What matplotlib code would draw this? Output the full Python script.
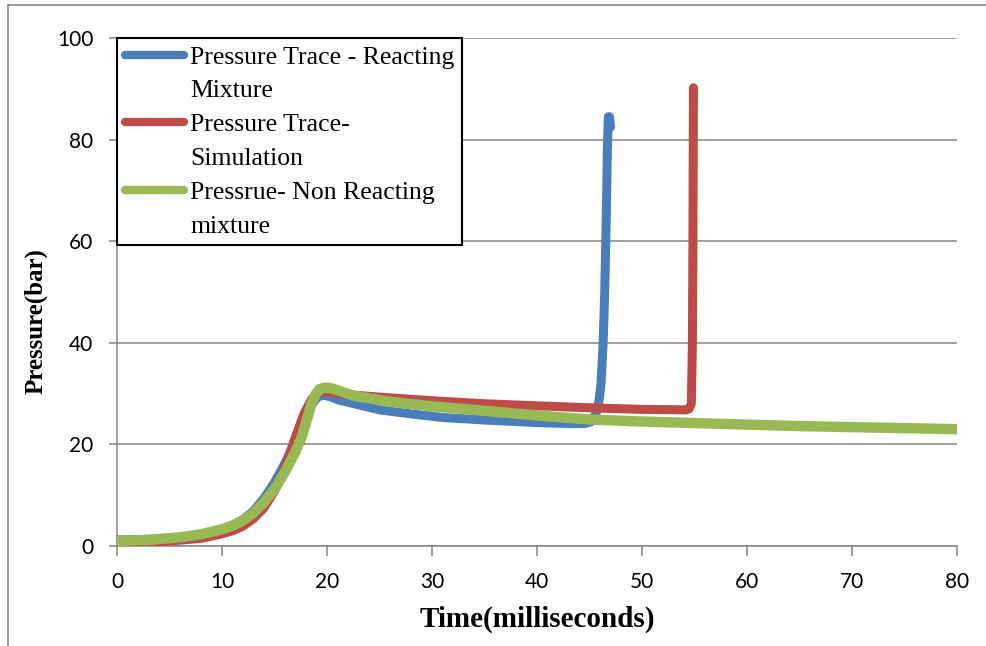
import matplotlib
matplotlib.use("Agg")
import matplotlib.pyplot as plt
from matplotlib.lines import Line2D

# pressure traces, time in ms, pressure in bar
t_react = [0, 3, 6, 8, 10, 11, 12, 13, 14, 15, 16, 17, 18, 18.6, 19.1, 19.6, 20.3, 21, 23, 25, 28, 31, 35, 40, 43,
           44.5, 45.2, 45.6, 45.9, 46.1, 46.3, 46.45, 46.6, 46.7, 46.8, 46.9, 47.0]
p_react = [1.2, 1.3, 1.7, 2.3, 3.3, 4.1, 5.2, 6.9, 9.4, 12.5, 16.3, 20.8, 25.5, 28.0, 29.3, 29.7, 29.4, 28.8, 27.8, 26.8, 26.0, 25.3, 24.8, 24.3, 24.1,
           24.1, 24.5, 26.0, 28.5, 32, 40, 50, 65, 78, 84.5, 84.5, 82.5]

t_sim = [0, 4, 8, 10, 11, 12, 13, 14, 15, 16, 17, 17.8, 18.5, 19.1, 19.7, 20.5, 22, 25, 30, 35, 40, 45, 50,
         54.2, 54.5, 54.7, 54.8, 54.85, 54.9]
p_sim = [0.6, 0.8, 1.5, 2.4, 3.0, 3.9, 5.4, 7.5, 10.8, 15.5, 21.5, 26.0, 28.8, 30.1, 30.4, 30.2, 29.8, 29.3, 28.6, 28.0, 27.6, 27.2, 26.9,
         26.8, 27.0, 28.0, 40, 60, 90.2]

t_nonreact = [0, 3, 6, 8, 10, 11, 12, 13, 14, 15, 16, 17, 17.6, 18.1, 18.5, 18.9, 19.3, 19.8, 20.5, 21.5, 22.5, 26, 30, 34.6,
              40, 45, 50, 55, 60, 65, 70, 75, 80]
p_nonreact = [1.0, 1.2, 1.7, 2.3, 3.3, 4.0, 5.0, 6.5, 8.6, 11.2, 14.6, 18.6, 21.5, 25.0, 27.8, 29.8, 30.9, 31.2, 31.0, 30.3, 29.6, 28.4, 27.5, 26.7,
              25.7, 24.9, 24.5, 24.2, 23.9, 23.6, 23.4, 23.2, 23.0]

lab_react = ["Pressure Trace - Reacting", "Mixture"]
lab_sim = ["Pressure Trace-", "Simulation"]
lab_nonreact = ["Pressrue- Non Reacting", "mixture"]

blue = "#4A7EBB"
red = "#BE4B48"
green = "#98B954"
gray = "#868686"

fig = plt.figure(figsize=(9.87, 6.46), dpi=100)
ax = fig.add_axes([117 / 987, 100 / 646, 840 / 987, 508 / 646])

ax.plot(t_react, p_react, color=blue, lw=6.5, solid_capstyle="round", solid_joinstyle="round", zorder=3)
ax.plot(t_sim, p_sim, color=red, lw=6.5, solid_capstyle="round", solid_joinstyle="round", zorder=4)
ax.plot(t_nonreact, p_nonreact, color=green, lw=7.5, solid_capstyle="round", solid_joinstyle="round", zorder=5)

ax.set_xlim(0, 80)
ax.set_ylim(0, 100)
ax.set_xticks(range(0, 81, 10))
ax.set_yticks(range(0, 101, 20))
ax.yaxis.grid(True, color=gray, lw=1.1)
ax.set_axisbelow(True)
for s in ["top", "right"]:
    ax.spines[s].set_visible(False)
for s in ["left", "bottom"]:
    ax.spines[s].set_color(gray)
    ax.spines[s].set_linewidth(1.1)
    ax.spines[s].set_zorder(2)
ax.tick_params(axis="both", direction="out", color=gray, width=1.1, labelsize=15)
ax.tick_params(axis="x", length=7, pad=12)
ax.tick_params(axis="y", length=6, pad=11)
for lbl in ax.get_xticklabels() + ax.get_yticklabels():
    lbl.set_family("Lato")

ax.set_xlabel("Time(milliseconds)", family="Liberation Serif", fontweight="bold", fontsize=21)
ax.set_ylabel("Pressure(bar)", family="Liberation Serif", fontweight="bold", fontsize=18)
ax.xaxis.set_label_coords(0.5, -0.118)
ax.xaxis.label.set_va("top")
ax.yaxis.set_label_coords(-0.083, 0.443)

# two-line legend labels: the second line gets an empty handle
blank = Line2D([], [], color="none")
handles = [Line2D([], [], color=blue, lw=6, solid_capstyle="round"), blank,
           Line2D([], [], color=red, lw=6, solid_capstyle="round"), blank,
           Line2D([], [], color=green, lw=6, solid_capstyle="round"), blank]
labels = lab_react + lab_sim + lab_nonreact
leg = ax.legend(handles, labels, loc="upper left", bbox_to_anchor=(0, 1), borderaxespad=0,
                prop={"family": "Liberation Serif", "size": 18.5}, handlelength=2.3,
                handletextpad=0.25, labelspacing=0.42, borderpad=0.3, fancybox=False,
                framealpha=1, edgecolor="black")
leg.get_frame().set_linewidth(1.5)
leg.set_zorder(10)

# outer chart border
fig.add_artist(Line2D([8 / 987, 8 / 987], [0, 1 - 5 / 646], color=gray, lw=1.2))
fig.add_artist(Line2D([8 / 987, 1], [1 - 5 / 646, 1 - 5 / 646], color=gray, lw=1.2))

fig.savefig("out.png", dpi=100)
